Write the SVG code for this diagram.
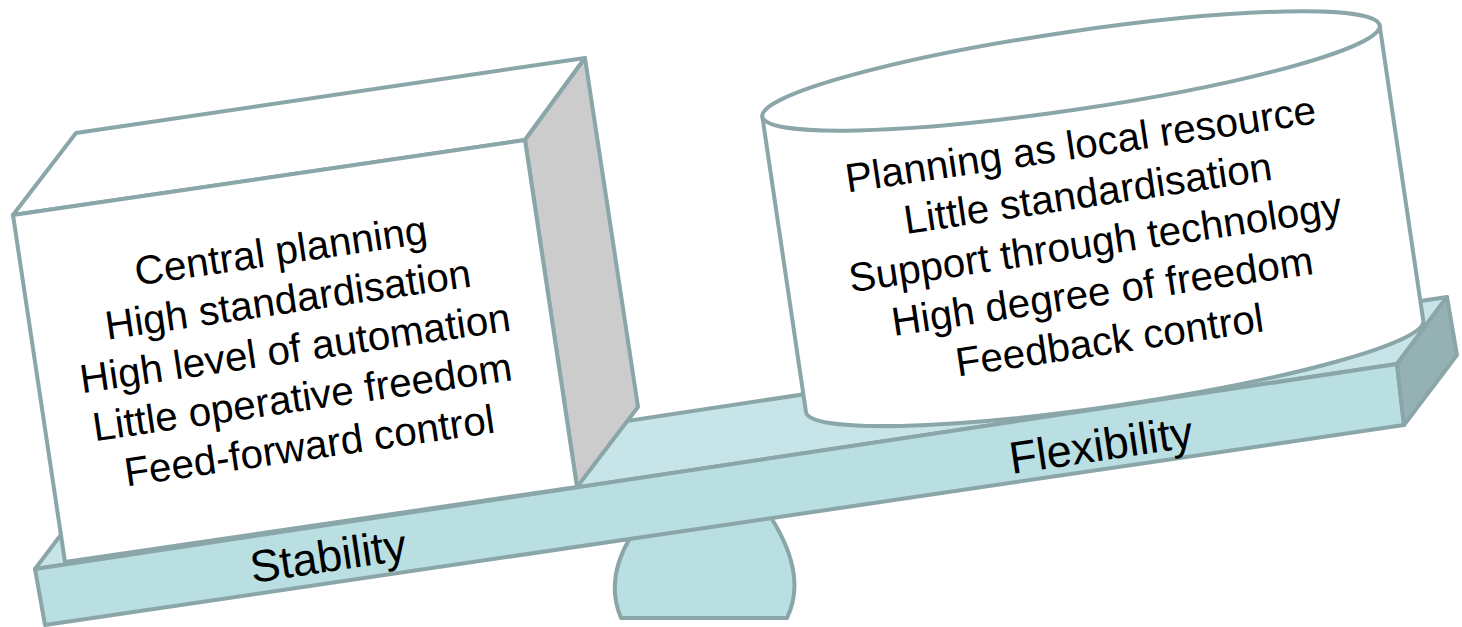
<svg xmlns="http://www.w3.org/2000/svg" width="1462" height="627" viewBox="0 0 1462 627">
<style>
.s{stroke:#8aa6a8;stroke-width:4;stroke-linejoin:round}
.t{font-family:"Liberation Sans",Arial,sans-serif;font-size:40.5px;fill:#000;text-anchor:middle;dominant-baseline:central}
.l{font-family:"Liberation Sans",Arial,sans-serif;font-size:45px;fill:#000;text-anchor:middle;dominant-baseline:central}
</style>
<rect width="1462" height="627" fill="#fff"/>
<g id="fulcrum">
<path class="s" d="M630,538 Q605,580 621,618 L787,618 Q808,575 770,516 Z" fill="#b9dfe2"/>
</g>
<g id="beam">
<polygon class="s" points="35,569 85,503 1447,297 1397,364" fill="#c7e5e8"/>
<polygon class="s" points="35,569 1397,364 1404,425 45,625" fill="#b9dfe2"/>
<polygon class="s" points="1397,364 1447,297 1457,355 1404,425" fill="#94b2b4"/>
<text class="l" transform="translate(328,556) rotate(-8.5)">Stability</text>
<text class="l" transform="translate(1101,445) rotate(-8.5)">Flexibility</text>
</g>
<g id="box">
<polygon class="s" points="13,215 76,133 585,58 525,140" fill="#fff"/>
<polygon class="s" points="525,140 585,58 638,407 577,487" fill="#cccccc"/>
<polygon class="s" points="13,215 525,140 577,487 65,562" fill="#fff"/>
<g transform="translate(295,348) rotate(-8.3)">
<text class="t" x="0" y="-98.6">Central planning</text>
<text class="t" x="0" y="-49.3">High standardisation</text>
<text class="t" x="0" y="0">High level of automation</text>
<text class="t" x="0" y="49.3">Little operative freedom</text>
<text class="t" x="0" y="98.6">Feed-forward control</text>
</g>
</g>
<g id="cylinder">
<g transform="translate(1071,71) rotate(-8.4)">
<path class="s" d="M-312,0 L-312,298.6 A312,39 0 0 0 312,298.6 L312,0 Z" fill="#fff"/>
<ellipse class="s" cx="0" cy="0" rx="312" ry="39" fill="#fff"/>
</g>
<g transform="translate(1095,242) rotate(-8.4)">
<text class="t" x="0" y="-99">Planning as local resource</text>
<text class="t" x="0" y="-49.5">Little standardisation</text>
<text class="t" x="0" y="0">Support through technology</text>
<text class="t" x="0" y="49.5">High degree of freedom</text>
<text class="t" x="0" y="99">Feedback control</text>
</g>
</g>
</svg>
